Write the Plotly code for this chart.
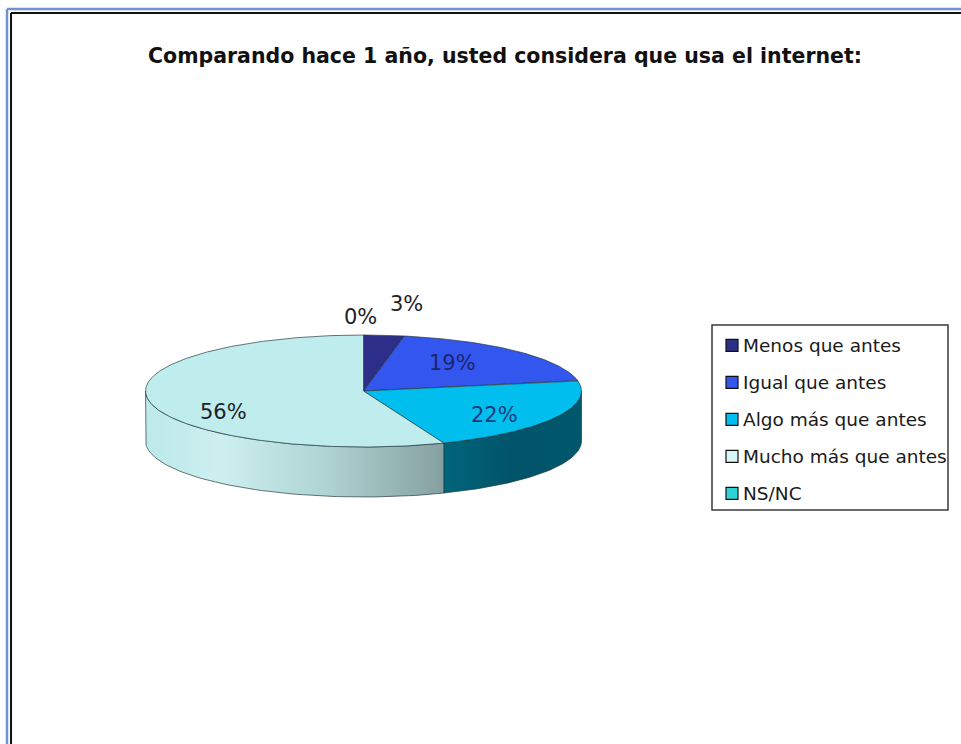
import numpy as np
import plotly.graph_objects as go

# Survey answers and their shares (%)
categories = ["Menos que antes", "Igual que antes", "Algo más que antes",
              "Mucho más que antes", "NS/NC"]
shares = [3, 19, 22, 56, 0]
value_labels = ["3%", "19%", "22%", "56%", "0%"]
title_text = "Comparando hace 1 año, usted considera que usa el internet:"

# Styling
top_colors = ["#2D2E87", "#3357EE", "#00BEEE", "#BFEDEE", "#2FD3D3"]
legend_colors = ["#2D2E87", "#3357EE", "#00BEEE", "#D8F6F6", "#2FD3D3"]
side_scales = [
    [[0, "#1E1F5C"], [1, "#1E1F5C"]],
    [[0, "#213A9E"], [1, "#213A9E"]],
    [[0, "#00657B"], [0.5, "#00546A"], [1, "#00586C"]],
    [[0, "#BCE9EA"], [0.25, "#CDEFEF"], [0.6, "#AFD4D4"], [1, "#86A0A0"]],
    [[0, "#1F8E8E"], [1, "#1F8E8E"]],
]
label_colors = ["#222222", "#1C2570", "#1C3A7A", "#222222", "#222222"]
# label anchor: fraction of the radius along the mid-angle, then a nudge
label_place = [(1.0, 22, -31), (0.6, -3, -4), (0.6, 16, 8), (0.6, -12, 15), (1.0, -3, -18)]

W, H = 961, 744
CX, CY, RX, RY, DEPTH = 363.5, 391.0, 218.0, 56.0, 50.0
EDGE = "rgba(35,55,60,0.85)"


def rim(theta, drop=0.0, frac=1.0):
    """Point on the pie rim; theta in degrees clockwise from 12 o'clock."""
    t = np.radians(theta)
    return CX + RX * frac * np.sin(t), CY - RY * frac * np.cos(t) + drop


total = float(sum(shares))
bounds = np.concatenate([[0.0], np.cumsum(shares) / total * 360.0])

fig = go.Figure()

# Visible side walls (front half of the disc: 90..270 degrees)
for i, (a, b) in enumerate(zip(bounds[:-1], bounds[1:])):
    lo, hi = max(a, 90.0), min(b, 270.0)
    if hi <= lo:
        continue
    th = np.linspace(lo, hi, 80)
    xt, yt = rim(th)
    xb, yb = rim(th[::-1], drop=DEPTH)
    xs = np.concatenate([xt, xb, xt[:1]])
    ys = np.concatenate([yt, yb, yt[:1]])
    fig.add_trace(go.Scatter(
        x=xs, y=ys, mode="lines", fill="toself",
        line=dict(color=EDGE, width=0.8),
        fillgradient=dict(type="horizontal", colorscale=side_scales[i],
                          start=float(xs.min()), stop=float(xs.max())),
        hoverinfo="skip", showlegend=False))

# Top faces
for i, (a, b) in enumerate(zip(bounds[:-1], bounds[1:])):
    if b - a <= 0:
        continue
    th = np.linspace(a, b, max(int((b - a) * 2), 4))
    xt, yt = rim(th)
    xs = np.concatenate([[CX], xt, [CX]])
    ys = np.concatenate([[CY], yt, [CY]])
    fig.add_trace(go.Scatter(
        x=xs, y=ys, mode="lines", fill="toself", fillcolor=top_colors[i],
        line=dict(color=EDGE, width=0.8),
        hoverinfo="skip", showlegend=False))

# Value labels
for i, (a, b) in enumerate(zip(bounds[:-1], bounds[1:])):
    frac, dx, dy = label_place[i]
    lx, ly = rim((a + b) / 2.0, frac=frac)
    fig.add_annotation(x=lx + dx, y=ly + dy, text=value_labels[i], showarrow=False,
                       xref="x", yref="y",
                       font=dict(family="DejaVu Sans", size=21, color=label_colors[i]))

# Legend box
LX0, LX1, LY0, LY1 = 712, 948, 325, 510
STEP = (LY1 - LY0) / len(categories)
fig.add_shape(type="rect", xref="x", yref="y", x0=LX0, x1=LX1, y0=LY0, y1=LY1,
              line=dict(color="#3A3A3A", width=1.5), fillcolor="white")
for i, name in enumerate(categories):
    yc = LY0 + STEP * (i + 0.55)
    fig.add_shape(type="rect", xref="x", yref="y", x0=LX0 + 14, x1=LX0 + 26,
                  y0=yc - 6, y1=yc + 6, fillcolor=legend_colors[i],
                  line=dict(color="#111111", width=1.2))
    fig.add_annotation(x=LX0 + 29, y=yc, text=name, showarrow=False, xanchor="left",
                       xref="x", yref="y",
                       font=dict(family="DejaVu Sans", size=18.5, color="#1A1A1A"))

# Title
fig.add_annotation(x=505, y=56, text="<b>" + title_text + "</b>", showarrow=False,
                   xref="x", yref="y",
                   font=dict(family="DejaVu Sans", size=20.5, color="#111111"))

# Window frame
fig.add_shape(type="line", xref="x", yref="y", x0=7, x1=W + 5, y0=9, y1=9,
              line=dict(color="#6F93D3", width=2.5))
fig.add_shape(type="line", xref="x", yref="y", x0=7, x1=7, y0=9, y1=H + 5,
              line=dict(color="#6F93D3", width=2.5))
fig.add_shape(type="line", xref="x", yref="y", x0=11, x1=W + 5, y0=13, y1=13,
              line=dict(color="#111111", width=2))
fig.add_shape(type="line", xref="x", yref="y", x0=11, x1=11, y0=13, y1=H + 5,
              line=dict(color="#111111", width=2))

fig.update_layout(
    width=W, height=H, margin=dict(l=0, r=0, t=0, b=0),
    paper_bgcolor="white", plot_bgcolor="white", showlegend=False,
    xaxis=dict(range=[0, W], visible=False, fixedrange=True),
    yaxis=dict(range=[H, 0], visible=False, fixedrange=True),
    hovermode=False,
)

fig.write_html("out.html")
